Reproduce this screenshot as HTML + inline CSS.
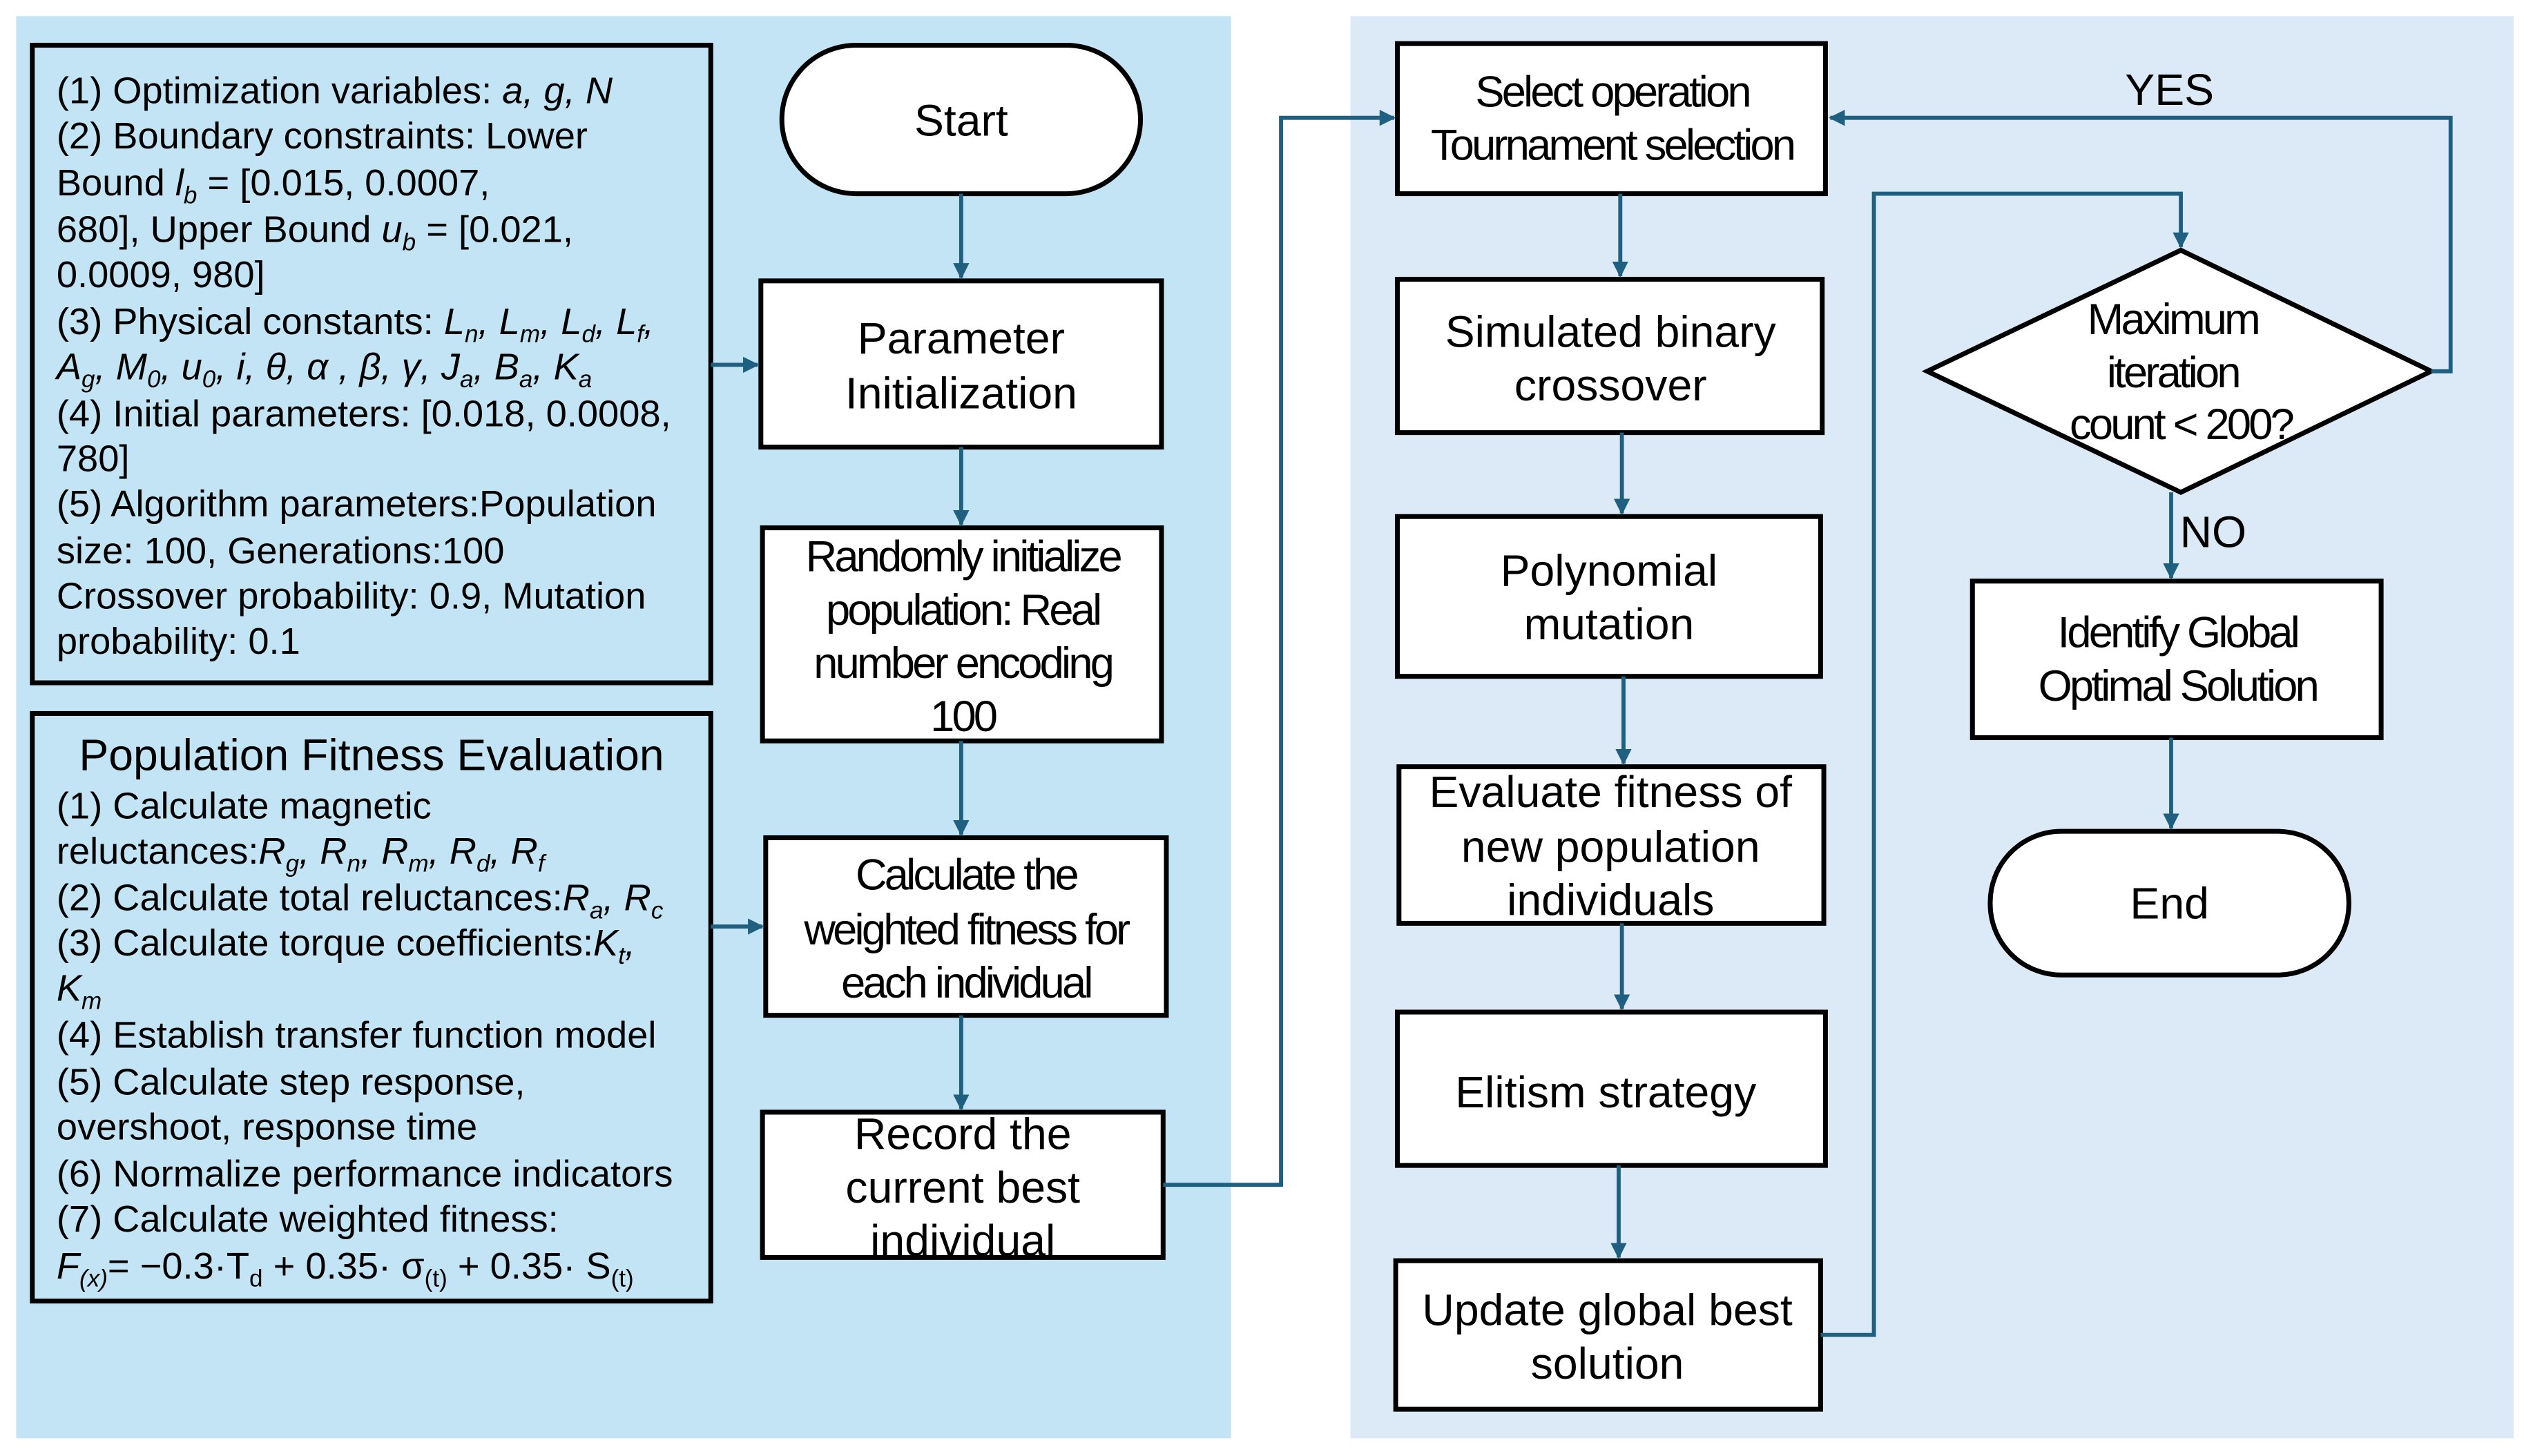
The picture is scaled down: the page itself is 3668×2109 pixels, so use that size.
<!DOCTYPE html>
<html><head><meta charset="utf-8"><style>
html,body{margin:0;padding:0;background:#fff}
svg{display:block}
text{font-family:"Liberation Sans",sans-serif;fill:#000}
.l{font-size:23.2px}
.c{font-size:27.5px;text-anchor:middle}
.n{font-size:27px;text-anchor:middle;letter-spacing:-1.6px}
</style></head><body>
<svg width="3668" height="2109" viewBox="0 0 1568 902" preserveAspectRatio="none" xmlns="http://www.w3.org/2000/svg">
<defs><marker id="a" markerWidth="10" markerHeight="10" refX="9" refY="5" orient="auto" markerUnits="userSpaceOnUse"><path d="M0,0 L10,5 L0,10 z" fill="#1f5f80"/></marker></defs>
<rect x="10" y="10" width="752" height="881" fill="#c2e4f4"/>
<rect x="836" y="10" width="720" height="881" fill="#dce9f6"/>
<g fill="none" stroke="#000" stroke-width="3">
<rect x="20" y="28" width="420" height="395" fill="#c2e4f4"/>
<rect x="20" y="442" width="420" height="364" fill="#c2e4f4"/>
<rect x="484" y="28" width="222" height="92" rx="46" fill="#fff"/>
<rect x="471" y="174" width="248" height="103" fill="#fff"/>
<rect x="472" y="327" width="247" height="132" fill="#fff"/>
<rect x="474" y="519" width="248" height="110" fill="#fff"/>
<rect x="472" y="689" width="248" height="90" fill="#fff"/>
<rect x="865" y="27" width="265" height="93" fill="#fff"/>
<rect x="865" y="173" width="263" height="95" fill="#fff"/>
<rect x="865" y="320" width="262" height="99" fill="#fff"/>
<rect x="866" y="475" width="263" height="97" fill="#fff"/>
<rect x="865" y="627" width="265" height="95" fill="#fff"/>
<rect x="864" y="781" width="263" height="92" fill="#fff"/>
<polygon points="1350,155 1505,230 1350,305 1193,230" fill="#fff"/>
<rect x="1221" y="360" width="253" height="97" fill="#fff"/>
<rect x="1232" y="515" width="222" height="89" rx="44" fill="#fff"/>
</g>
<g fill="none" stroke="#1f5f80" stroke-width="2.5" marker-end="url(#a)">
<path d="M595,120 V172"/>
<path d="M595,277 V325"/>
<path d="M595,459 V517"/>
<path d="M595,629 V687"/>
<path d="M440,226 H469"/>
<path d="M440,574 H472"/>
<path d="M720,734 H793 V73 H863"/>
<path d="M1003,120 V171"/>
<path d="M1004,268 V318"/>
<path d="M1005,419 V473"/>
<path d="M1004,572 V625"/>
<path d="M1002,722 V779"/>
<path d="M1127,827 H1160 V120 H1350 V153"/>
<path d="M1505,230 H1517 V73 H1133"/>
<path d="M1344,305 V358"/>
<path d="M1344,457 V513"/>
</g>
<g class="l">
<text x="35" y="64">(1) Optimization variables: <tspan font-style="italic">a, g, N</tspan></text>
<text x="35" y="92">(2) Boundary constraints: Lower</text>
<text x="35" y="121">Bound <tspan font-style="italic">l<tspan font-size="15" dy="5">b</tspan></tspan><tspan dy="-5"> = [0.015, 0.0007,</tspan></text>
<text x="35" y="150">680],  Upper Bound <tspan font-style="italic">u<tspan font-size="15" dy="5">b</tspan></tspan><tspan dy="-5"> = [0.021,</tspan></text>
<text x="35" y="178">0.0009, 980]</text>
<text x="35" y="207">(3) Physical constants: <tspan font-style="italic">L<tspan font-size="15" dy="5">n</tspan><tspan dy="-5">, L</tspan><tspan font-size="15" dy="5">m</tspan><tspan dy="-5">, L</tspan><tspan font-size="15" dy="5">d</tspan><tspan dy="-5">, L</tspan><tspan font-size="15" dy="5">f</tspan><tspan dy="-5">,</tspan></tspan></text>
<text x="35" y="235" font-style="italic">A<tspan font-size="15" dy="5">g</tspan><tspan dy="-5">, M</tspan><tspan font-size="15" dy="5">0</tspan><tspan dy="-5">, u</tspan><tspan font-size="15" dy="5">0</tspan><tspan dy="-5">, i, θ, α , β, γ, J</tspan><tspan font-size="15" dy="5">a</tspan><tspan dy="-5">, B</tspan><tspan font-size="15" dy="5">a</tspan><tspan dy="-5">, K</tspan><tspan font-size="15" dy="5">a</tspan></text>
<text x="35" y="264">(4) Initial parameters: [0.018, 0.0008,</text>
<text x="35" y="292">780]</text>
<text x="35" y="320">(5) Algorithm parameters:Population</text>
<text x="35" y="349">size: 100, Generations:100</text>
<text x="35" y="377">Crossover probability: 0.9, Mutation</text>
<text x="35" y="405">probability: 0.1</text>
<text x="230" y="477" font-size="27.5" text-anchor="middle">Population Fitness Evaluation</text>
<text x="35" y="507">(1) Calculate magnetic</text>
<text x="35" y="535">reluctances:<tspan font-style="italic">R<tspan font-size="15" dy="5">g</tspan><tspan dy="-5">, R</tspan><tspan font-size="15" dy="5">n</tspan><tspan dy="-5">, R</tspan><tspan font-size="15" dy="5">m</tspan><tspan dy="-5">, R</tspan><tspan font-size="15" dy="5">d</tspan><tspan dy="-5">, R</tspan><tspan font-size="15" dy="5">f</tspan></tspan></text>
<text x="35" y="564">(2) Calculate total reluctances:<tspan font-style="italic">R<tspan font-size="15" dy="5">a</tspan><tspan dy="-5">, R</tspan><tspan font-size="15" dy="5">c</tspan></tspan></text>
<text x="35" y="592">(3) Calculate torque coefficients:<tspan font-style="italic">K<tspan font-size="15" dy="5">t</tspan><tspan dy="-5">,</tspan></tspan></text>
<text x="35" y="620" font-style="italic">K<tspan font-size="15" dy="5">m</tspan></text>
<text x="35" y="649">(4) Establish transfer function model</text>
<text x="35" y="678">(5) Calculate step response,</text>
<text x="35" y="706">overshoot, response time</text>
<text x="35" y="735">(6) Normalize performance indicators</text>
<text x="35" y="763">(7) Calculate weighted fitness:</text>
<text x="35" y="792"><tspan font-style="italic">F<tspan font-size="15" dy="5">(x)</tspan></tspan><tspan dy="-5">= −0.3·T</tspan><tspan font-size="15" dy="5">d</tspan><tspan dy="-5"> + 0.35· σ</tspan><tspan font-size="15" dy="5">(t)</tspan><tspan dy="-5"> + 0.35· S</tspan><tspan font-size="15" dy="5">(t)</tspan></text>
</g>
<g class="c">
<text x="595" y="84">Start</text>
<text x="595" y="219">Parameter</text><text x="595" y="253">Initialization</text>
<text x="997" y="215">Simulated binary</text><text x="997" y="248">crossover</text>
<text x="996" y="363">Polynomial</text><text x="996" y="396">mutation</text>
<text x="997" y="500">Evaluate fitness of</text><text x="997" y="534">new population</text><text x="997" y="567">individuals</text>
<text x="994" y="686">Elitism strategy</text>
<text x="995" y="821">Update global best</text><text x="995" y="854">solution</text>
<text x="596" y="712">Record the</text><text x="596" y="745">current best</text><text x="596" y="778">individual</text>
<text x="1343" y="569">End</text>
<text x="1343" y="65">YES</text>
<text x="1370" y="339">NO</text>
</g>
<g class="n">
<text x="596" y="354">Randomly initialize</text><text x="596" y="387">population: Real</text><text x="596" y="420">number encoding</text><text x="596" y="453">100</text>
<text x="598" y="551">Calculate the</text><text x="598" y="585">weighted fitness for</text><text x="598" y="618">each individual</text>
<text x="998" y="66">Select operation</text><text x="998" y="99">Tournament selection</text>
<text x="1345" y="207">Maximum</text><text x="1345" y="240">iteration</text><text x="1350" y="272">count &lt; 200?</text>
<text x="1348" y="401">Identify Global</text><text x="1348" y="434">Optimal Solution</text>
</g>
</svg>
</body></html>
